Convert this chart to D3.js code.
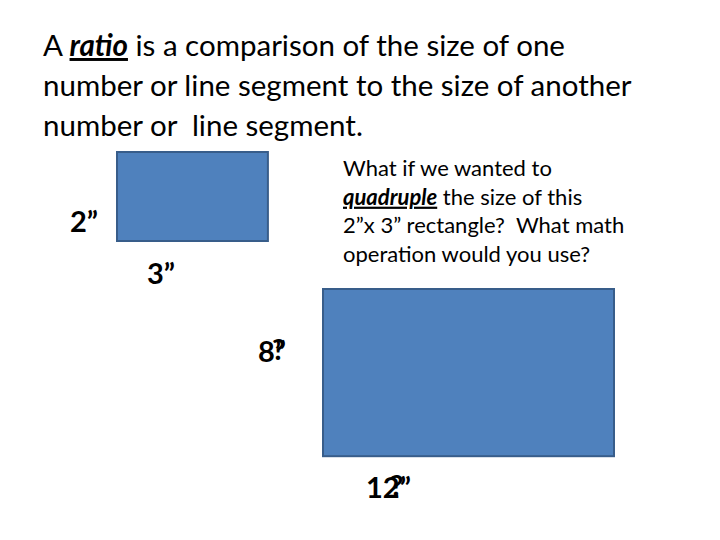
<!DOCTYPE html>
<html><head><meta charset="utf-8">
<script src="https://cdn.jsdelivr.net/npm/d3@7"></script>
<style>body{margin:0;background:#fff} text{font-family:Lato,"Open Sans",sans-serif}</style>
</head><body>
<svg id="slide" width="720" height="540"></svg>
<script>
// Slide content
const titleLines = ["A ratio is a comparison of the size of one",
  "number or line segment to the size of another",
  "number or  line segment."];
const noteLines = ["What if we wanted to", "quadruple the size of this",
  "2”x 3” rectangle?  What math", "operation would you use?"];
const rectNames = ["original", "quadrupled"];
const rectWidths = [3, 12];
const rectHeights = [2, 8];
const dimLabels = [["2”", "3”"], ["8”", "12”"]];

const svg = d3.select("#slide");
const x = d3.scaleLinear().domain([0, 720]).range([0, 720]);

// Title
const title = svg.append("text").attr("font-size", 29.5).attr("fill", "#000")
  .attr("xml:space", "preserve").style("white-space", "pre");
titleLines.forEach((l, i) => {
  const t = title.append("tspan").attr("x", x(43)).attr("y", 56 + i * 40);
  if (i === 0) {
    t.append("tspan").text("A ");
    t.append("tspan").attr("font-weight", "bold").attr("font-style", "italic")
      .attr("text-decoration", "underline").text("ratio");
    t.append("tspan").text(l.slice(7));
  } else t.text(l);
});

// Rectangles
const rectBoxes = [{x: 117, y: 152, s: 50.3, h: 44.5}, {x: 323, y: 289, s: 24.25, h: 20.9}];
svg.selectAll("rect.shape").data(rectNames).enter().append("rect")
  .attr("class", "shape")
  .attr("x", (d, i) => rectBoxes[i].x)
  .attr("y", (d, i) => rectBoxes[i].y)
  .attr("width", (d, i) => rectWidths[i] * rectBoxes[i].s)
  .attr("height", (d, i) => rectHeights[i] * rectBoxes[i].h)
  .attr("fill", "#4f81bd").attr("stroke", "#385d8a").attr("stroke-width", 2);

// Dimension labels (the "?" deliberately overlaps the numbers, as in the slide)
const lab = (t, px, py) => svg.append("text").attr("x", px).attr("y", py)
  .attr("font-size", 29).attr("font-weight", "bold").text(t);
lab(dimLabels[0][0], 70, 232);
lab(dimLabels[0][1], 147, 284);
lab(dimLabels[1][0], 258, 362);
lab("?", 272, 360);
lab(dimLabels[1][1], 366, 498);
lab("?", 390, 496);

// Note text
const note = svg.append("text").attr("font-size", 22)
  .attr("xml:space", "preserve").style("white-space", "pre");
noteLines.forEach((l, i) => {
  const t = note.append("tspan").attr("x", 343).attr("y", 176 + i * 28.7);
  if (i === 1) {
    t.append("tspan").attr("font-weight", "bold").attr("font-style", "italic")
      .attr("text-decoration", "underline").text("quadruple");
    t.append("tspan").text(l.slice(9));
  } else t.text(l);
});
</script>
</body></html>
